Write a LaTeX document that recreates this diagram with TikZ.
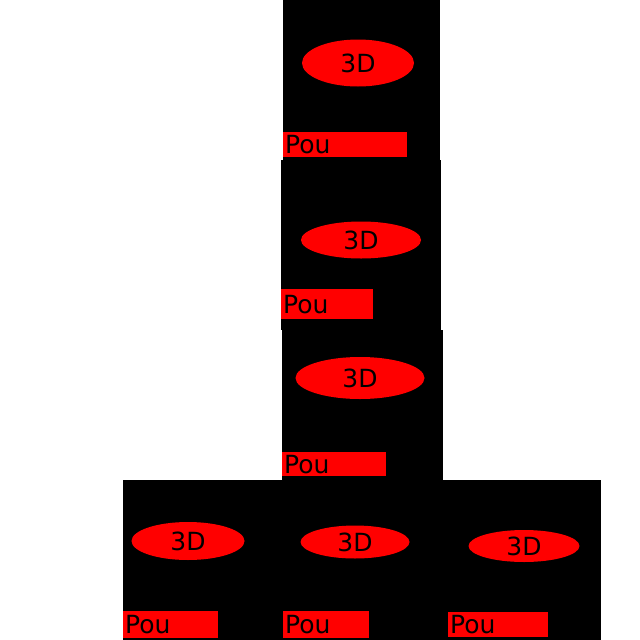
\documentclass[tikz,border=0pt]{standalone}
\usepackage{fontspec}
\setmainfont{DejaVu Sans}
\usetikzlibrary{shapes.geometric}

\begin{document}
\begin{tikzpicture}[x=1pt, y=-1pt,
        stage/.style = {fill=black, draw=none, anchor=north west, inner sep=0pt},
        conv/.style = {ellipse, fill=red, draw=none, inner sep=0pt, font=\fontsize{25}{29}\selectfont},
        poolbar/.style = {fill=red, draw=none, anchor=north west, inner xsep=2pt, inner ysep=0pt, align=left, font=\fontsize{25}{29}\selectfont},
    ]
        \useasboundingbox (0,0) rectangle (640,640);
        \clip (0,0) rectangle (640,640);

        % black stages
        \node[stage, minimum width=157pt, minimum height=162pt] (lev1) at (283,0) {};
        \node[stage, minimum width=160pt, minimum height=170pt] (lev2) at (281,160) {};
        \node[stage, minimum width=161pt, minimum height=150pt] (lev3) at (282,330) {};
        \node[stage, minimum width=478pt, minimum height=160pt] (base) at (123,480) {};

        % 3D blocks
        \node[conv, minimum width=112pt, minimum height=47pt] (conv1) at (358,63) {3D};
        \node[conv, minimum width=120pt, minimum height=37pt] (conv2) at (361,240) {3D};
        \node[conv, minimum width=129pt, minimum height=42pt] (conv3) at (360,378) {3D};
        \node[conv, minimum width=113pt, minimum height=38pt] (conva) at (188,541) {3D};
        \node[conv, minimum width=109pt, minimum height=33pt] (convb) at (355,542) {3D};
        \node[conv, minimum width=111pt, minimum height=32pt] (convc) at (524,546) {3D};

        % pooling bars
        \node[poolbar, text width=120pt, minimum height=25pt] (pool1) at (283,132) {Pou};
        \node[poolbar, text width=88pt, minimum height=30pt] (pool2) at (281,289) {Pou};
        \node[poolbar, text width=100pt, minimum height=24pt] (pool3) at (282,452) {Pou};
        \node[poolbar, text width=91pt, minimum height=27pt] (poola) at (123,611) {Pou};
        \node[poolbar, text width=82pt, minimum height=27pt] (poolb) at (283,611) {Pou};
        \node[poolbar, text width=96pt, minimum height=25pt] (poolc) at (448,612) {Pou};
    \end{tikzpicture}
\end{document}
